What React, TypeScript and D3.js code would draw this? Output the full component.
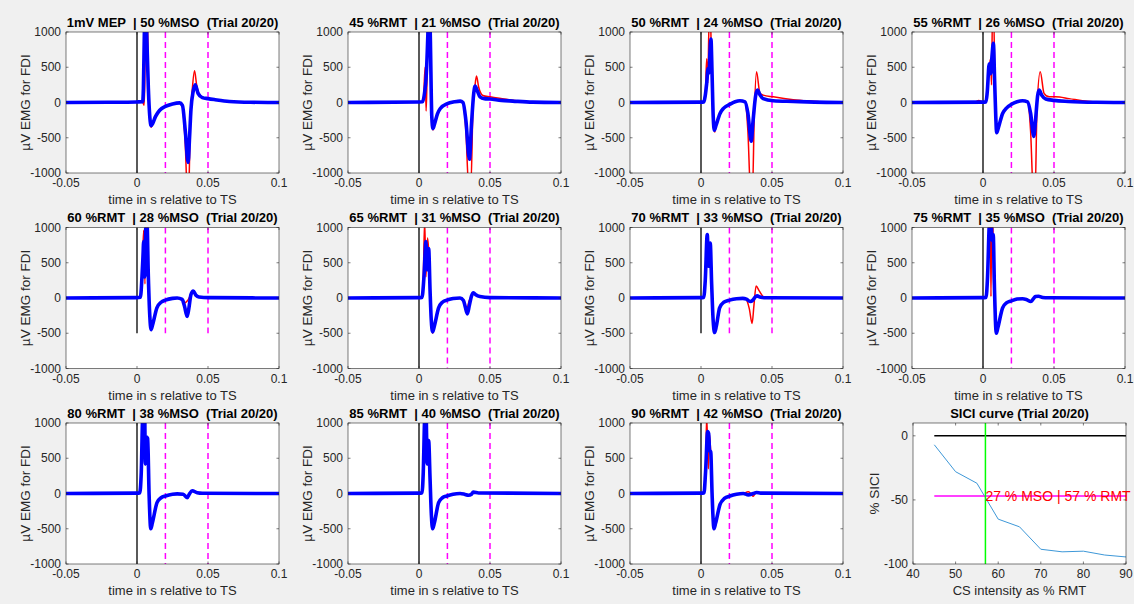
import React from 'react';
import * as d3 from 'd3';

type Pt = [number, number]; // [time in ms, µV]

const panelTitles = [
  '1mV MEP  | 50 %MSO  (Trial 20/20)',
  '45 %RMT  | 21 %MSO  (Trial 20/20)',
  '50 %RMT  | 24 %MSO  (Trial 20/20)',
  '55 %RMT  | 26 %MSO  (Trial 20/20)',
  '60 %RMT  | 28 %MSO  (Trial 20/20)',
  '65 %RMT  | 31 %MSO  (Trial 20/20)',
  '70 %RMT  | 33 %MSO  (Trial 20/20)',
  '75 %RMT  | 35 %MSO  (Trial 20/20)',
  '80 %RMT  | 38 %MSO  (Trial 20/20)',
  '85 %RMT  | 40 %MSO  (Trial 20/20)',
  '90 %RMT  | 42 %MSO  (Trial 20/20)',
];

const xTicks = [-0.05, 0, 0.05, 0.1];
const yTicks = [-1000, -500, 0, 500, 1000];
const markerTimes = [0.02, 0.05];
const markerMin = [-1000, -1000, -1000, -1000, -500, -1000, -500, -1000, -1000, -1000, -1000];

const redTraces: Pt[][] = [
  [[-50,0],[0,5],[4,5],[5,-40],[5.5,300],[6,1500],[7,1600],[8,300],[9,-250],[10,-350],[11,-300],[13,-200],[16,-110],[20,-55],[25,-20],[30,-5],[32,-60],[34,-600],[35.5,-1300],[36.5,-1200],[37.5,-300],[39,200],[40.5,450],[42,250],[44,110],[47,70],[50,55],[55,40],[65,15],[80,3],[100,0]],
  [[-50,0],[0,8],[3,10],[4.3,500],[5,-120],[5.5,200],[6.5,1400],[7.5,1200],[8.5,100],[9.8,-390],[11,-310],[13,-160],[15,-85],[20,-15],[25,10],[29,20],[31,0],[33,-400],[35,-1200],[36.5,-1200],[38,-100],[39.5,250],[40.5,375],[42,220],[45,100],[50,80],[60,50],[70,20],[80,5],[100,0]],
  [[-50,0],[0,5],[2,8],[3,100],[4,620],[4.7,270],[5.9,1300],[6.8,1100],[8,0],[9.6,-420],[10.5,-340],[13.4,-155],[16,-80],[20.4,-25],[24,10],[27.4,25],[31,10],[33,-400],[35,-1300],[36.2,-1300],[37.5,-200],[39.1,435],[41.5,130],[43.8,105],[50.9,80],[65,40],[76.6,20],[90,3],[100,0]],
  [[-50,0],[-6,5],[-3,30],[0,8],[2.1,8],[3,150],[4.4,500],[5.4,620],[6,250],[6.7,1300],[7.5,1300],[8.5,0],[9.6,-440],[10.8,-370],[13.8,-155],[16.5,-80],[20.1,-25],[24,10],[27.8,25],[31.4,10],[33.5,-400],[35.5,-1300],[36.7,-1300],[38,-100],[40.3,435],[43,130],[46.6,80],[51,80],[60.6,55],[70,25],[84,3],[100,0]],
  [[-50,0],[0,5],[2.4,10],[3.5,300],[4.7,960],[5.6,200],[6.5,1300],[7.2,1200],[8,300],[9,-250],[9.9,-460],[11,-380],[14,-140],[17,-60],[20,-30],[25,-5],[28.3,0],[31.8,-10],[33.7,-70],[35.5,-40],[37.5,30],[39.6,90],[41.5,40],[43.6,15],[50.6,5],[100,0]],
  [[-50,0],[0,5],[2.1,8],[3,300],[4,1100],[4.9,300],[6,850],[7,600],[7.8,100],[8.6,-300],[9.6,-500],[10.8,-410],[13.8,-140],[16.5,-60],[19.6,-30],[24,-8],[28.9,0],[31.3,-30],[33.8,-160],[35,-60],[36,-10],[38.5,65],[40,45],[42.9,20],[50,5],[100,0]],
  [[-50,0],[0,5],[1.9,8],[3,250],[4.4,900],[5.4,450],[6.5,780],[7.5,200],[8.5,-300],[9.6,-490],[10.8,-400],[13.1,-140],[16,-60],[20.1,-30],[25,-10],[29.4,-5],[31.8,-20],[34,-150],[36,-360],[37.3,-100],[38.8,170],[41,100],[44,15],[46,3],[100,0]],
  [[-50,0],[0,5],[2.1,8],[3.2,300],[4.4,1100],[5.2,1300],[5.6,20],[6.2,1300],[6.8,1300],[7.4,300],[8.7,-300],[9.4,-500],[10.5,-420],[13.8,-140],[16.5,-70],[20.1,-40],[24,-15],[27.8,-10],[30.5,-15],[33.7,-40],[35.5,-5],[37,20],[39.1,25],[42,8],[46,3],[100,0]],
  [[-50,0],[0,5],[1.9,8],[3,300],[4,1100],[4.7,1300],[5.9,400],[6.6,800],[7.5,780],[8.5,0],[9.7,-510],[10.8,-420],[14.1,-130],[17,-60],[20,-35],[25,-10],[28.3,-5],[32.5,-10],[35.3,-50],[36.8,-10],[38.9,40],[42.4,10],[46,3],[100,0]],
  [[-50,0],[0,5],[2.1,8],[3,300],[4,1100],[4.8,1300],[5.8,400],[6.8,750],[7.8,200],[8.7,-300],[9.6,-510],[10.8,-420],[13.8,-130],[16.5,-60],[19.6,-35],[24,-10],[28.9,0],[32,-10],[34.8,-30],[37,-10],[38.2,20],[42,8],[100,0]],
  [[-50,0],[0,5],[2.1,8],[3.2,300],[4,1100],[5.2,350],[5.8,850],[6.8,600],[7.8,0],[8.5,-350],[9.1,-510],[10.3,-420],[13.4,-155],[16.5,-70],[20.4,-35],[25,-10],[29.8,0],[33.3,25],[35,0],[36.8,-40],[38,-5],[39.1,15],[42,5],[100,0]],
];

const blueTraces: Pt[][] = [
  [[-50,0],[-20,3],[0,8],[4,10],[4.5,200],[5.2,1000],[6,1600],[6.8,1000],[8,200],[9,-200],[10,-330],[11,-300],[13,-200],[16,-110],[20,-55],[25,-20],[30,-5],[32,-40],[34,-400],[36,-850],[37,-500],[38,-100],[39.5,150],[41,250],[43,130],[46,70],[50,55],[55,40],[65,15],[80,3],[100,0]],
  [[-50,0],[0,8],[2.5,10],[4,150],[5,350],[6.3,1000],[7,1500],[7.9,1000],[9,-200],[9.8,-370],[11,-300],[13,-160],[15,-85],[20,-15],[25,10],[29,20],[31,0],[33,-250],[35.5,-805],[37,-300],[38.5,120],[39.5,232],[41,170],[43,80],[46,55],[50,50],[58,30],[66,20],[80,5],[100,0]],
  [[-50,0],[0,5],[2,8],[3,100],[4,270],[5,480],[5.7,420],[6.3,700],[7,900],[7.8,400],[8.6,-200],[9.4,-393],[10.5,-330],[13.4,-155],[16,-80],[20.4,-25],[24,10],[27.4,25],[31,10],[33,-150],[35.4,-550],[36.5,-300],[38.5,100],[39.8,175],[41.5,110],[43.8,55],[50.9,25],[65,15],[80,5],[100,0]],
  [[-50,0],[0,5],[2.1,8],[3,150],[4.4,550],[5.4,410],[6.3,650],[7.3,840],[8.2,300],[9,-200],[9.6,-430],[10.8,-360],[13.8,-155],[16.5,-80],[20.1,-25],[24,10],[27.8,25],[31.4,10],[33.5,-150],[35.8,-480],[37,-250],[38.5,100],[39.5,175],[41.5,100],[44.2,50],[50,30],[60,15],[80,3],[100,0]],
  [[-50,0],[0,5],[2.4,10],[3.5,300],[4.2,580],[4.7,800],[5.4,300],[6.4,1100],[7,1100],[8,300],[9,-250],[9.9,-450],[11,-380],[14,-140],[17,-60],[20,-30],[25,-5],[28.3,0],[31.8,-20],[33.5,-120],[35.3,-260],[36.5,-150],[38,50],[39.6,100],[41.5,40],[43.6,15],[50.6,5],[100,0]],
  [[-50,0],[0,5],[2.1,8],[3.5,300],[4.9,800],[5.6,400],[6.8,700],[7.8,100],[8.6,-300],[9.6,-480],[10.8,-400],[13.8,-140],[16.5,-60],[19.6,-30],[24,-8],[28.9,0],[31.3,-35],[32.5,-120],[34,-225],[35.5,-100],[37,30],[38.3,75],[40,45],[42.9,20],[50,5],[100,0]],
  [[-50,0],[0,5],[1.9,8],[3,250],[4.4,900],[5.4,450],[6.5,780],[7.5,200],[8.5,-300],[9.6,-490],[10.8,-400],[13.1,-140],[16,-60],[20.1,-30],[25,-10],[29.4,-5],[32,-15],[34.6,-50],[36.5,-30],[38,10],[39.5,30],[42,10],[46,3],[100,0]],
  [[-50,0],[0,5],[2.1,8],[3.2,300],[4.4,1050],[5.5,1300],[6.3,820],[7.2,900],[8,200],[8.7,-300],[9.4,-500],[10.5,-420],[13.8,-140],[16.5,-70],[20.1,-40],[24,-15],[27.8,-10],[30.5,-20],[33.7,-50],[35.5,-10],[37,20],[39.1,25],[42,8],[46,3],[100,0]],
  [[-50,0],[0,5],[1.9,8],[3,300],[4,1100],[5.3,1300],[5.9,420],[6.6,800],[7.5,780],[8.5,0],[9.7,-500],[10.8,-420],[14.1,-130],[17,-60],[20,-35],[25,-10],[28.3,-5],[32.5,-10],[35.3,-60],[36.8,-10],[38.9,40],[42.4,10],[46,3],[100,0]],
  [[-50,0],[0,5],[2.1,8],[3,300],[4,1100],[4.8,1300],[5.8,420],[6.8,750],[7.8,200],[8.7,-300],[9.6,-500],[10.8,-420],[13.8,-130],[16.5,-60],[19.6,-35],[24,-10],[28.9,0],[32,-10],[34.8,-25],[37,-10],[38.2,20],[42,8],[100,0]],
  [[-50,0],[0,5],[2.1,8],[3.2,300],[4.7,880],[5.4,850],[6.1,600],[6.8,600],[7.8,0],[8.5,-350],[9.1,-500],[10.3,-420],[13.4,-155],[16.5,-70],[20.4,-35],[25,-10],[29.8,0],[33.3,-20],[36.8,0],[39.1,15],[42,5],[100,0]],
];

const siciIntensity = [45, 50, 55, 60, 65, 70, 75, 80, 85, 90];
const siciValues = [-7, -28, -37, -65, -71, -88.5, -90.5, -90, -93, -94.5];
const siciXTicks = [40, 50, 60, 70, 80, 90];
const siciYTicks = [-100, -50, 0];
const siciThresholdRMT = 57;
const siciThresholdMSO = 27;
const siciLevel = -47;

const W = 1134;
const H = 604;
const colLeft = [66, 348, 630, 912];
const rowTop = [32, 227.5, 423];
const PW = 213;
const PH = 141;
const FONT = '"Liberation Sans", Arial, Helvetica, sans-serif';
const AX = '#262626';
const TICK_FS = 12;
const LAB_FS = 13;

function Frame({ left, top, x, y, xt, yt, fmtX }: any) {
  const right = left + PW, bottom = top + PH, tl = 2.5;
  return (
    <g>
      {xt.map((v: number) => (
        <g key={'x' + v}>
          <line x1={x(v)} x2={x(v)} y1={bottom} y2={bottom - tl} stroke={AX} strokeWidth={0.6} />
          <line x1={x(v)} x2={x(v)} y1={top} y2={top + tl} stroke={AX} strokeWidth={0.6} />
          <text x={x(v)} y={bottom + 14} textAnchor="middle" fontSize={TICK_FS} fill={AX}>{fmtX(v)}</text>
        </g>
      ))}
      {yt.map((v: number) => (
        <g key={'y' + v}>
          <line x1={left} x2={left + tl} y1={y(v)} y2={y(v)} stroke={AX} strokeWidth={0.6} />
          <line x1={right} x2={right - tl} y1={y(v)} y2={y(v)} stroke={AX} strokeWidth={0.6} />
          <text x={left - 5} y={y(v) + 4} textAnchor="end" fontSize={TICK_FS} fill={AX}>{String(v)}</text>
        </g>
      ))}
      <rect x={left} y={top} width={PW} height={PH} fill="none" stroke={AX} strokeWidth={0.6} />
    </g>
  );
}

function EmgPanel({ i }: { i: number }) {
  const left = colLeft[i % 4];
  const top = rowTop[Math.floor(i / 4)];
  const x = d3.scaleLinear().domain([-0.05, 0.1]).range([left, left + PW]);
  const y = d3.scaleLinear().domain([-1000, 1000]).range([top + PH, top]);
  const line = d3.line<Pt>().x(d => x(d[0] / 1000)).y(d => y(d[1])).curve(d3.curveMonotoneX);
  const clipId = 'clip' + i;
  return (
    <g>
      <rect x={left} y={top} width={PW} height={PH} fill="#fff" />
      <clipPath id={clipId}><rect x={left} y={top} width={PW} height={PH} /></clipPath>
      <g clipPath={`url(#${clipId})`}>
        <line x1={x(0)} x2={x(0)} y1={y(1000)} y2={y(markerMin[i])} stroke="#000" strokeWidth={1.3} />
        {markerTimes.map(t => (
          <line key={t} x1={x(t)} x2={x(t)} y1={y(1000)} y2={y(markerMin[i])} stroke="#ff00ff" strokeWidth={1.5} strokeDasharray="6,4" />
        ))}
        <path d={line(redTraces[i]) || ''} fill="none" stroke="#ff0000" strokeWidth={1.5} strokeLinejoin="round" />
        <path d={line(blueTraces[i]) || ''} fill="none" stroke="#0000ff" strokeWidth={3.6} strokeLinejoin="round" strokeLinecap="round" />
      </g>
      <Frame left={left} top={top} x={x} y={y} xt={xTicks} yt={yTicks} fmtX={(v: number) => String(v)} />
      <text x={left + PW / 2} y={top - 5.5} textAnchor="middle" fontSize={LAB_FS} fontWeight="bold" fill="#000" style={{ whiteSpace: 'pre' }}>{panelTitles[i]}</text>
      <text x={left + PW / 2} y={top + PH + 31} textAnchor="middle" fontSize={LAB_FS} fill={AX}>time in s relative to TS</text>
      <text transform={`translate(${left - 36.5},${top + PH / 2}) rotate(-90)`} textAnchor="middle" fontSize={13.5} fill={AX}>µV EMG for FDI</text>
    </g>
  );
}

function SiciPanel() {
  const left = colLeft[3] + 1;
  const top = rowTop[2];
  const x = d3.scaleLinear().domain([40, 90]).range([left, left + PW]);
  const y = d3.scaleLinear().domain([-100, 10]).range([top + PH, top]);
  const pts: Pt[] = siciIntensity.map((v, k) => [v, siciValues[k]]);
  const line = d3.line<Pt>().x(d => x(d[0])).y(d => y(d[1]));
  const x0 = siciIntensity[0], x1 = siciIntensity[siciIntensity.length - 1];
  return (
    <g>
      <rect x={left} y={top} width={PW} height={PH} fill="#fff" />
      <line x1={x(x0)} x2={x(x1)} y1={y(0)} y2={y(0)} stroke="#000" strokeWidth={1.5} />
      <path d={line(pts) || ''} fill="none" stroke="#3e98d8" strokeWidth={1} />
      <line x1={x(x0)} x2={x(x1)} y1={y(siciLevel)} y2={y(siciLevel)} stroke="#ff00ff" strokeWidth={1.5} />
      <line x1={x(siciThresholdRMT)} x2={x(siciThresholdRMT)} y1={top} y2={top + PH} stroke="#00ff00" strokeWidth={1.5} />
      <Frame left={left} top={top} x={x} y={y} xt={siciXTicks} yt={siciYTicks} fmtX={(v: number) => String(v)} />
      <text x={x(siciThresholdRMT)} y={y(siciLevel) + 5} fontSize={14} fill="#ff0000">{`${siciThresholdMSO} % MSO | ${siciThresholdRMT} % RMT`}</text>
      <text x={left + PW / 2} y={top - 5.5} textAnchor="middle" fontSize={LAB_FS} fontWeight="bold" fill="#000">SICI curve (Trial 20/20)</text>
      <text x={left + PW / 2} y={top + PH + 31} textAnchor="middle" fontSize={LAB_FS} fill={AX}>CS intensity as % RMT</text>
      <text transform={`translate(${left - 34},${top + PH / 2}) rotate(-90)`} textAnchor="middle" fontSize={13.5} fill={AX}>% SICI</text>
    </g>
  );
}

export default function App() {
  return (
    <svg width={W} height={H} viewBox={`0 0 ${W} ${H}`} style={{ position: 'absolute', left: 0, top: 0, fontFamily: FONT }}>
      <rect x={0} y={0} width={W} height={H} fill="#f0f0f0" />
      {panelTitles.map((_, i) => <EmgPanel key={i} i={i} />)}
      <SiciPanel />
    </svg>
  );
}
